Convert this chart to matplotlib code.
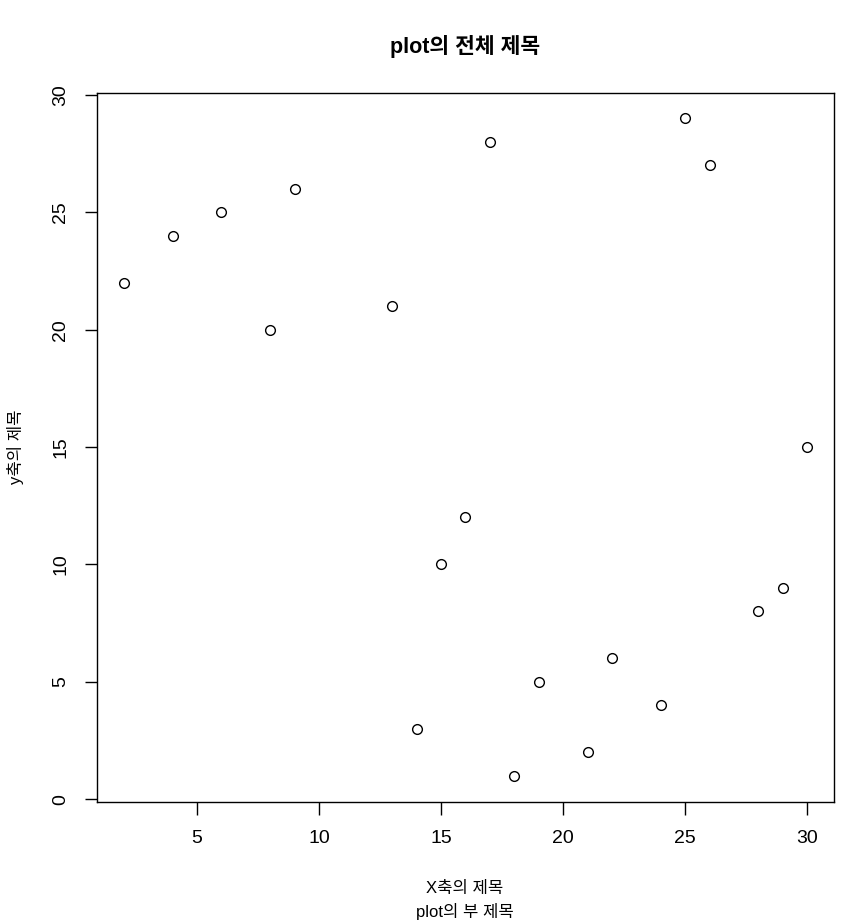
import matplotlib.pyplot as plt

plt.rcParams['font.family'] = ['Liberation Sans', 'Noto Sans CJK KR', 'DejaVu Sans']

# scatter data
x = [2, 4, 6, 8, 9, 13, 14, 15, 16, 17, 18, 19, 21, 22, 24, 25, 26, 28, 29, 30]
y = [22, 24, 25, 20, 26, 21, 3, 10, 12, 28, 1, 5, 2, 6, 4, 29, 27, 8, 9, 15]
xticks = [5, 10, 15, 20, 25, 30]
yticks = [0, 5, 10, 15, 20, 25, 30]

W, H = 842, 923
fig = plt.figure(figsize=(W / 100, H / 100), dpi=100)
ax = fig.add_axes([97 / W, 1 - 802 / H, (834 - 97) / W, (802 - 93) / H])

ax.plot(x, y, 'o', mfc='none', mec='black', ms=7, mew=1.0)
ax.set_xlim(0.9, 31.1)
ax.set_ylim(-0.12, 30.08)
ax.set_xticks(xticks)
ax.set_yticks(yticks)
ax.tick_params(axis='both', length=9, width=1, labelsize=14)
ax.tick_params(axis='x', pad=11)
ax.tick_params(axis='y', pad=11)
for lab in ax.get_yticklabels():
    lab.set_rotation(90)
    lab.set_va('center')
for s in ax.spines.values():
    s.set_linewidth(1)

fig.text(465 / W, 1 - 46 / H, 'plot의 전체 제목', ha='center', va='center',
         fontsize=15.5, fontweight='bold')
fig.text(465 / W, 1 - 888 / H, 'X축의 제목', ha='center', va='center', fontsize=12)
fig.text(465 / W, 1 - 912 / H, 'plot의 부 제목', ha='center', va='center', fontsize=12)
fig.text(15 / W, 1 - 447 / H, 'y축의 제목', ha='center', va='center', fontsize=12,
         rotation=90)

fig.savefig('out.png', dpi=100)
